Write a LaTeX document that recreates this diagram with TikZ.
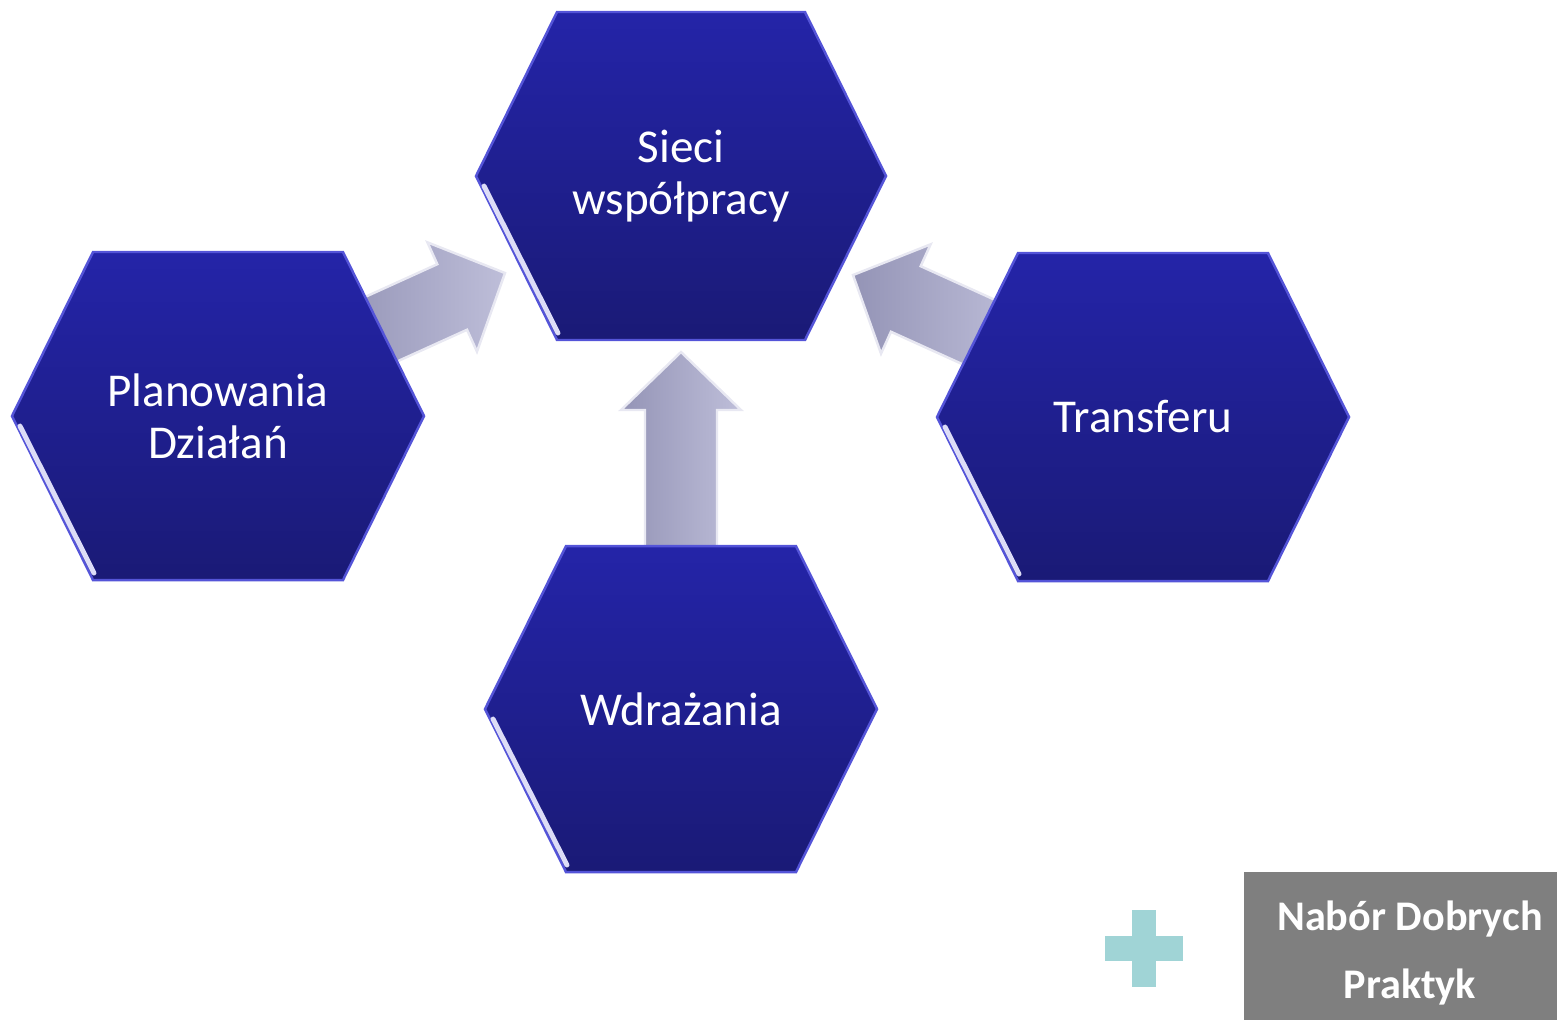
\documentclass[tikz,border=0pt]{standalone}
\usepackage{fontspec}
\setmainfont{Carlito}
\usepackage{tikz}
\usetikzlibrary{calc}

\definecolor{hextop}{HTML}{2424A8}
\definecolor{hexbot}{HTML}{1A1A76}
\definecolor{hexrim}{HTML}{5454D8}
\definecolor{arrdark}{HTML}{9494B6}
\definecolor{arrlight}{HTML}{BEBED9}
\definecolor{pluscol}{HTML}{A0D4D6}
\definecolor{boxgray}{HTML}{7F7F7F}

\tikzset{
  hextext/.style={text=white, align=center, font=\fontsize{13.4}{14.8}\selectfont},
  arrowbody/.style={left color=arrdark, right color=arrlight, draw=white!65!arrlight, line width=0.7pt, line join=miter},
  boxtext/.style={text=white, align=center, font=\bfseries\fontsize{12}{19.1}\selectfont}
}

\newcommand{\hexa}[6]{%
  \shade[top color=hextop, bottom color=hexbot, draw=hexrim, line width=0.7pt]
    (#2-#4,#3) -- (#2-#4+81,#3-#5) -- (#2+#4-81,#3-#5) -- (#2+#4,#3)
    -- (#2+#4-81,#3+#5) -- (#2-#4+81,#3+#5) -- cycle;
  \draw[white!80!hexrim, line width=1.4pt, line cap=round] (#2-#4+8,#3+10) -- (#2-#4+82,#3+#5-7);
  \node[hextext] (#1) at (#2,#3) {#6};}

\newcommand{\blockarrow}[3]{%
  \shade[arrowbody, shift={(#1)}, rotate=#2]
    (0,0) -- (-58,60) -- (-58,36) -- (-#3,36) -- (-#3,-36) -- (-58,-36) -- (-58,-60) -- cycle;}

\begin{document}
\begin{tikzpicture}[x=0.01cm, y=-0.01cm]
    \useasboundingbox (0,0) rectangle (1557,1020);
    \coordinate (tipplan) at (505,273);
    \coordinate (tiptrans) at (853,275);
    \coordinate (tipwdr) at (681,352);
    \blockarrow{tipplan}{24.4}{170}
    \blockarrow{tiptrans}{155.6}{170}
    \blockarrow{tipwdr}{90}{200}
    \hexa{sieci}{681}{176}{205}{164}{Sieci\\współpracy}
    \hexa{plan}{218}{416}{206}{164}{Planowania\\Działań}
    \hexa{transfer}{1143}{417}{206}{164}{Transferu}
    \hexa{wdrazanie}{681}{709}{196}{163}{Wdrażania}
    \fill[pluscol] (1132,910) rectangle (1156,987);
    \fill[pluscol] (1105,936) rectangle (1183,961);
    \fill[boxgray] (1244,872) rectangle (1557,1020);
    \node[boxtext] (nabor) at (1410,953) {Nabór Dobrych\\Praktyk};
\end{tikzpicture}
\end{document}
